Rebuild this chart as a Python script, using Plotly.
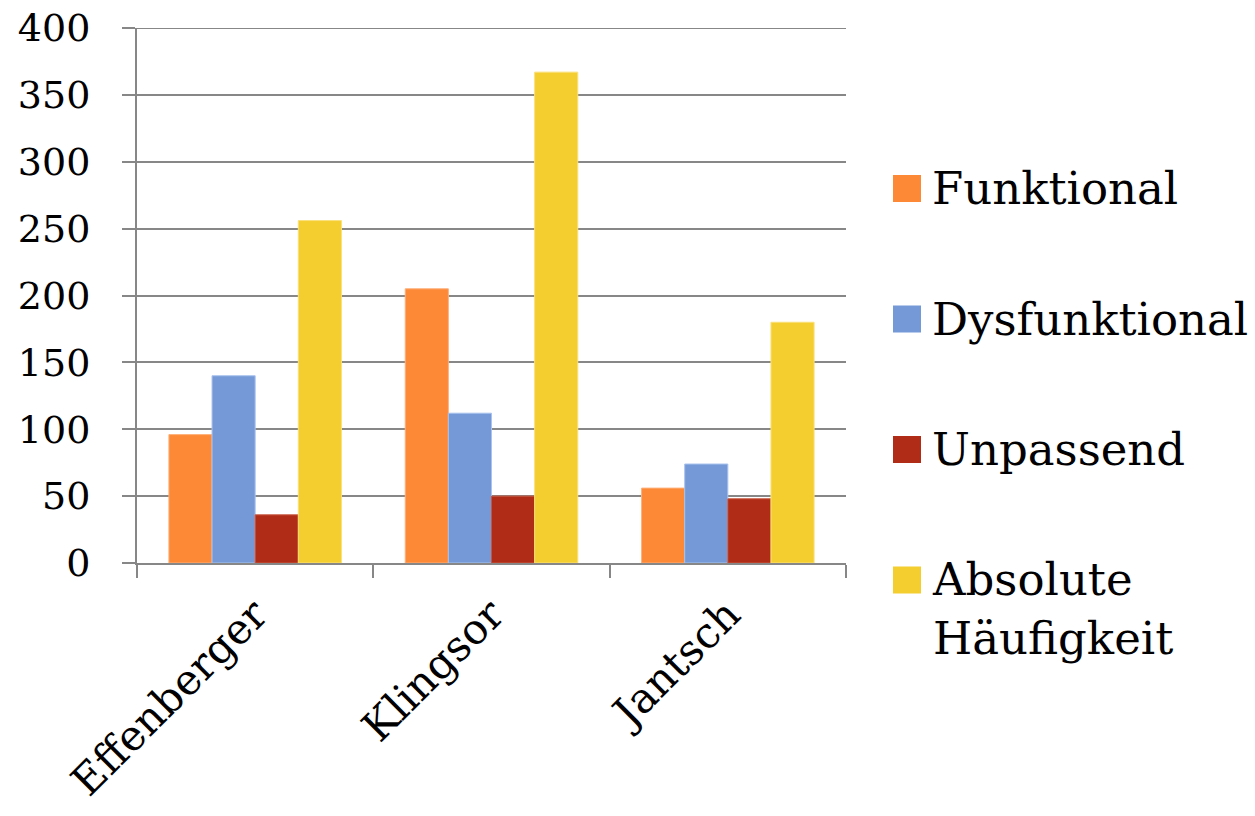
import plotly.graph_objects as go

# Categories and series values
authors = ["Effenberger", "Klingsor", "Jantsch"]
series_names = ["Funktional", "Dysfunktional", "Unpassend", "Absolute<br>Häufigkeit"]
funktional = [96, 205, 56]
dysfunktional = [140, 112, 74]
unpassend = [36, 50, 48]
absolute = [256, 367, 180]
series_values = [funktional, dysfunktional, unpassend, absolute]
colors = ["#FD8835", "#7599D6", "#B02C17", "#F4CD2E"]
outlines = ["#FFB07A", "#A9C2EE", "#C9573F", "#FAE07A"]
y_ticks = [0, 50, 100, 150, 200, 250, 300, 350, 400]

W, H = 1255, 816
L, R, T, B = 137, 846, 28, 563  # plot area in pixels

SERIF = "DejaVu Serif"
GRID = "#878787"

fig = go.Figure()
for name, vals, col, oc in zip(series_names, series_values, colors, outlines):
    fig.add_trace(go.Bar(
        x=authors, y=vals, name=name.replace("<br>", " "),
        marker=dict(color=col, line=dict(color=oc, width=1)),
        showlegend=False,
    ))

# Legend drawn as swatches + labels to the right of the plot
def px_to_paper(px, py):
    return (px - L) / (R - L), (B - py) / (B - T)

shapes, annotations = [], []
swatch_centers = [188.5, 319, 449.5, 580]
line_h = 58
for name, col, cy in zip(series_names, colors, swatch_centers):
    x0, y0 = px_to_paper(893, cy + 13.5)
    x1, y1 = px_to_paper(921, cy - 13.5)
    shapes.append(dict(type="rect", xref="paper", yref="paper",
                       x0=x0, x1=x1, y0=y0, y1=y1,
                       fillcolor=col, line=dict(width=0)))
    nlines = name.count("<br>") + 1
    tx, ty = px_to_paper(930, cy + (nlines - 1) * line_h / 2)
    annotations.append(dict(xref="paper", yref="paper", x=tx, y=ty,
                            text=name, showarrow=False, align="left",
                            xanchor="left", yanchor="middle",
                            font=dict(family=SERIF, size=45, color="black")))

# top gridline at the axis maximum
shapes.append(dict(type="line", xref="paper", yref="y", x0=0, x1=1,
                   y0=max(y_ticks), y1=max(y_ticks), layer="below",
                   line=dict(color=GRID, width=2)))

fig.update_layout(
    width=W, height=H,
    margin=dict(l=L, r=W - R, t=T, b=H - B, pad=0, autoexpand=False),
    paper_bgcolor="white", plot_bgcolor="white",
    barmode="group", bargap=0.27, bargroupgap=0,
    shapes=shapes, annotations=annotations,
    font=dict(family=SERIF, color="black"),
)
fig.update_xaxes(
    type="category", showgrid=False, automargin=False,
    showline=True, linecolor=GRID, linewidth=2,
    ticks="outside", tickson="boundaries", ticklen=13, tickwidth=2, tickcolor=GRID,
    tickangle=-45, ticklabelstandoff=8,
    tickfont=dict(family=SERIF, size=42, color="black"),
)
fig.update_yaxes(
    range=[0, 400], tickvals=y_ticks, automargin=False,
    showgrid=True, gridcolor=GRID, gridwidth=2,
    showline=True, linecolor=GRID, linewidth=2,
    ticks="outside", ticklen=13, tickwidth=2, tickcolor=GRID,
    ticklabelstandoff=24,
    tickfont=dict(family=SERIF, size=38, color="black"),
    zeroline=False,
)

fig.write_html("out.html")
